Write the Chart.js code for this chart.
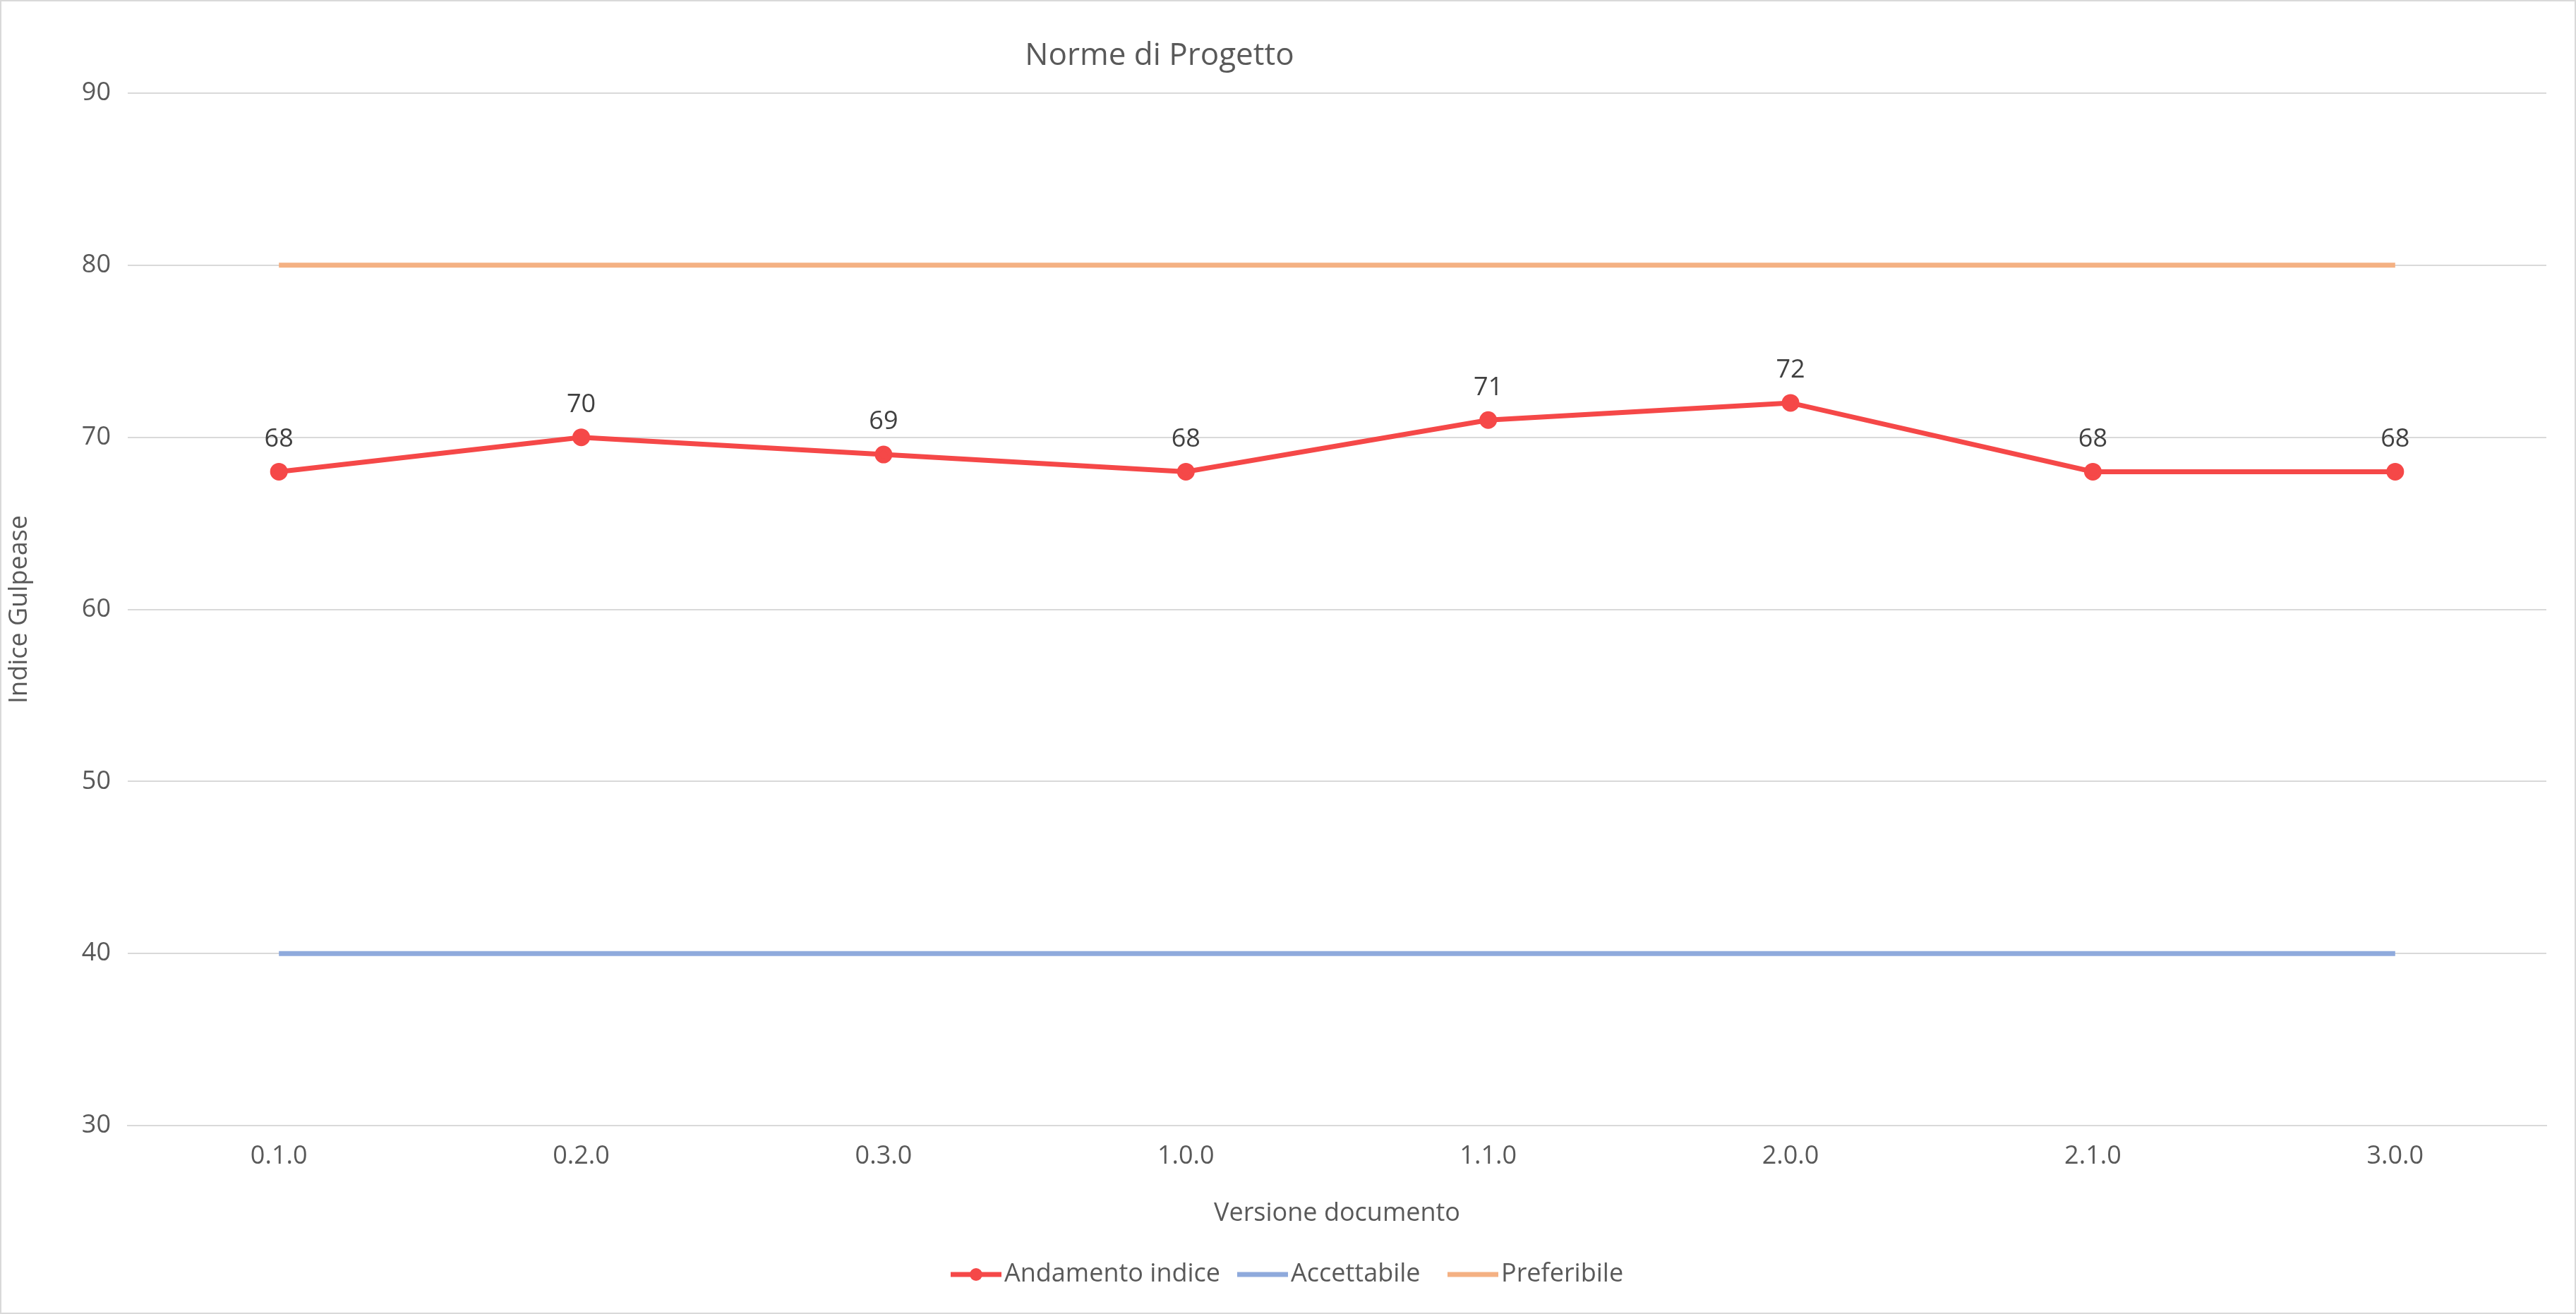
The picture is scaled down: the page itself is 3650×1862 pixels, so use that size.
<!DOCTYPE html>
<html><head><meta charset="utf-8">
<script src="https://cdn.jsdelivr.net/npm/chart.js@4/dist/chart.umd.min.js"></script>
<style>html,body{margin:0;padding:0;background:#fff}#wrap{width:3650px;height:1862px;box-sizing:border-box;border:2px solid #d9d9d9}</style>
</head><body><div id="wrap"><canvas id="c"></canvas></div>
<script>
// dati del grafico
const versioni = ['0.1.0','0.2.0','0.3.0','1.0.0','1.1.0','2.0.0','2.1.0','3.0.0'];
const andamento = [68,70,69,68,71,72,68,68];
const accettabile = [40,40,40,40,40,40,40,40];
const preferibile = [80,80,80,80,80,80,80,80];
const titolo = 'Norme di Progetto';
const FONT = "'Open Sans', 'Noto Sans', sans-serif";
const GRIGIO = '#595959';

// titolo, etichette dei valori e legenda disegnati a mano
const extra = {
  id: 'extra',
  afterDatasetsDraw(chart) {
    const ctx = chart.ctx;
    ctx.save();
    ctx.fillStyle = GRIGIO;
    ctx.textAlign = 'center';
    ctx.textBaseline = 'middle';
    ctx.font = '44px ' + FONT;
    ctx.fillText(titolo, 1641, 77);
    // etichette valori
    ctx.font = '36px ' + FONT;
    ctx.fillStyle = '#404040';
    chart.getDatasetMeta(0).data.forEach((p, i) => {
      ctx.fillText(andamento[i], p.x, p.y - 46);
    });
    // legenda
    const items = chart.data.datasets;
    const widths = [300, 192, 180];
    let x = 1345;
    const y = 1804;
    ctx.font = '36px ' + FONT;
    ctx.textAlign = 'left';
    items.forEach((d, i) => {
      ctx.strokeStyle = d.borderColor;
      ctx.lineWidth = 7;
      ctx.beginPath(); ctx.moveTo(x, y); ctx.lineTo(x + 72, y); ctx.stroke();
      if (i === 0) {
        ctx.fillStyle = d.borderColor;
        ctx.beginPath(); ctx.arc(x + 36, y, 9, 0, Math.PI * 2); ctx.fill();
      }
      ctx.fillStyle = GRIGIO;
      ctx.fillText(d.label, x + 76, y);
      x += 76 + widths[i] + 30;
    });
    ctx.restore();
  }
};

new Chart(document.getElementById('c'), {
  type: 'line',
  data: {
    labels: versioni,
    datasets: [
      { label: 'Andamento indice', data: andamento, borderColor: '#F54848', backgroundColor: '#F54848',
        borderWidth: 7, pointRadius: 9, pointHoverRadius: 9, tension: 0 },
      { label: 'Accettabile', data: accettabile, borderColor: '#8FAADC', borderWidth: 7, pointRadius: 0 },
      { label: 'Preferibile', data: preferibile, borderColor: '#F4B183', borderWidth: 7, pointRadius: 0 }
    ]
  },
  options: {
    responsive: true,
    maintainAspectRatio: false,
    animation: false,
    layout: { padding: { left: 0, right: 40, top: 130, bottom: 115 } },
    plugins: { legend: { display: false }, title: { display: false }, tooltip: { enabled: false } },
    scales: {
      x: {
        offset: true,
        grid: { display: false },
        border: { color: '#d9d9d9', width: 2 },
        ticks: { color: GRIGIO, font: { size: 36, family: FONT }, padding: 14 },
        title: { display: true, text: 'Versione documento', color: GRIGIO, font: { size: 36, family: FONT } },
        afterFit: s => { s.height = 150; }
      },
      y: {
        min: 30, max: 90,
        ticks: { stepSize: 10, color: GRIGIO, font: { size: 36, family: FONT }, padding: 24 },
        grid: { color: '#d9d9d9', lineWidth: 2, drawTicks: false },
        border: { display: false },
        title: { display: true, text: 'Indice Gulpease', color: GRIGIO, font: { size: 36, family: FONT } },
        afterFit: s => { s.width = 179; }
      }
    }
  },
  plugins: [extra]
});
</script></body></html>
